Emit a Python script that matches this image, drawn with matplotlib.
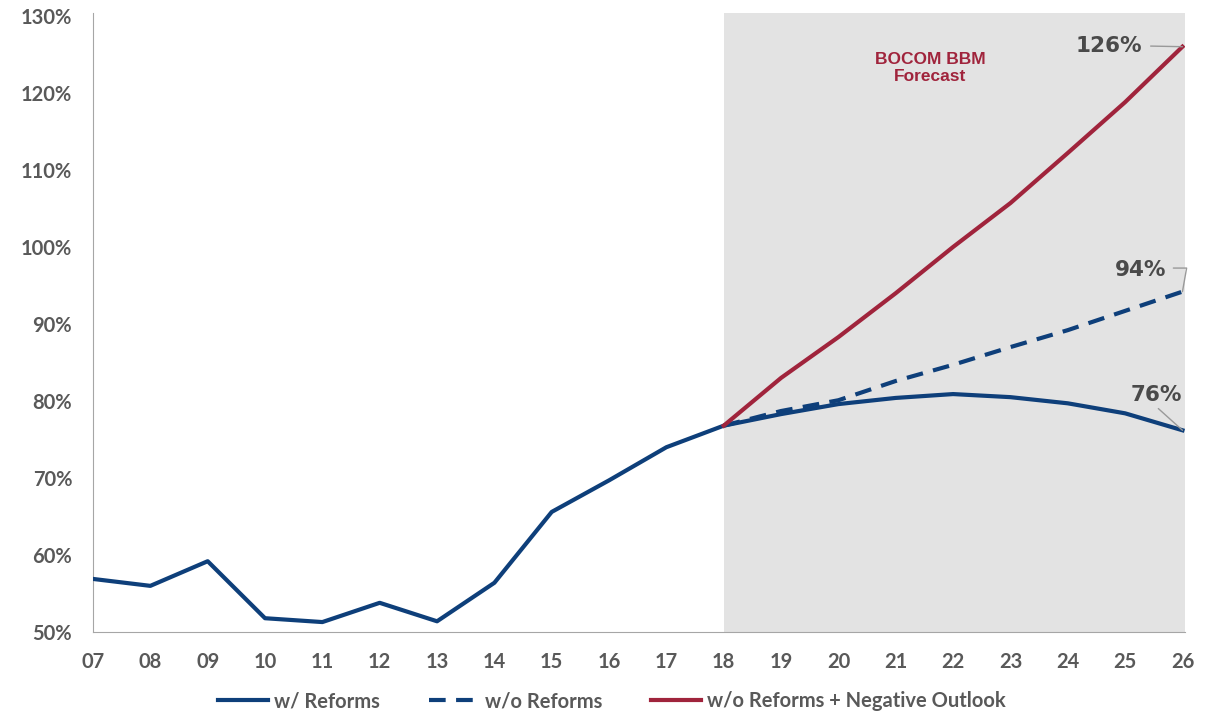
import matplotlib.pyplot as plt

years = ['07', '08', '09', '10', '11', '12', '13', '14', '15', '16', '17',
         '18', '19', '20', '21', '22', '23', '24', '25', '26']
with_reforms = [56.9, 56.0, 59.2, 51.8, 51.3, 53.8, 51.4, 56.4, 65.6, 69.7, 74.0,
                76.8, 78.3, 79.6, 80.4, 80.9, 80.5, 79.7, 78.4, 76.2]
forecast_years = years[11:]
without_reforms = [76.8, 78.7, 80.1, 82.6, 84.7, 87.0, 89.2, 91.7, 94.2]
negative_outlook = [76.8, 83.0, 88.3, 94.0, 100.0, 105.7, 112.2, 118.8, 126.0]

navy = '#0e3f7a'
red = '#a0243c'
grey = '#595959'

plt.rcParams['font.family'] = ['Lato', 'DejaVu Sans']

fig = plt.figure(figsize=(12.11, 7.11), dpi=100)
ax = fig.add_axes([0.0768, 0.111, 0.902, 0.871])

x = list(range(len(years)))
xf = x[11:]
last = x[-1]

ax.axvspan(11, last + 0.05, color='#e3e3e3', zorder=0, lw=0)

ax.plot(x, with_reforms, color=navy, lw=3, label='w/ Reforms', zorder=3)
ax.plot(xf, without_reforms, color=navy, lw=3, ls=(0, (4, 2.5)), label='w/o Reforms', zorder=3)
ax.plot(xf, negative_outlook, color=red, lw=3, label='w/o Reforms + Negative Outlook', zorder=3)

ax.set_xticks(x)
ax.set_xticklabels(years)
ax.set_yticks(range(50, 131, 10))
ax.set_yticklabels([f'{v}%' for v in range(50, 131, 10)])
ax.set_xlim(0, last + 0.05)
ax.set_ylim(50, 130.4)
ax.tick_params(length=0, labelsize=14.5, labelcolor=grey)
ax.tick_params(axis='x', pad=14)
ax.tick_params(axis='y', pad=15)
for lbl in ax.get_xticklabels() + ax.get_yticklabels():
    lbl.set_fontweight('bold')

for s in ['top', 'right']:
    ax.spines[s].set_visible(False)
ax.spines['left'].set_color('#a6a6a6')
ax.spines['bottom'].set_color('#a6a6a6')

ax.text(14.6, 123.2, 'BOCOM BBM\nForecast', color=red, fontsize=12.5, fontweight='bold',
        family='Liberation Sans', ha='center', va='center', linespacing=1.15)

ann = dict(fontsize=15.5, fontweight='bold', color='#4a4a4a', family='DejaVu Sans')
ax.annotate('126%', xy=(last, negative_outlook[-1]), xytext=(18.3, 126.1),
            ha='right', va='center',
            arrowprops=dict(arrowstyle='-', color='#999999', lw=1, relpos=(1, 0.5), shrinkA=4, shrinkB=0), **ann)
ax.annotate('94%', xy=(last, without_reforms[-1]), xytext=(18.72, 97.0),
            ha='right', va='center',
            arrowprops=dict(arrowstyle='-', color='#999999', lw=1, relpos=(1, 0.6), shrinkA=3, shrinkB=0,
                            connectionstyle='angle,angleA=0,angleB=80,rad=0'), **ann)
ax.annotate('76%', xy=(last, with_reforms[-1]), xytext=(19.0, 80.8),
            ha='right', va='center',
            arrowprops=dict(arrowstyle='-', color='#999999', lw=1, relpos=(0.45, 0), shrinkA=1, shrinkB=0), **ann)

leg = ax.legend(loc='upper center', bbox_to_anchor=(0.475, -0.066), ncol=3, frameon=False,
                fontsize=14.5, handlelength=2.5, columnspacing=2.4, handletextpad=0.3)
for t in leg.get_texts():
    t.set_color(grey)
    t.set_fontweight('bold')

fig.savefig('out.png', dpi=100)
